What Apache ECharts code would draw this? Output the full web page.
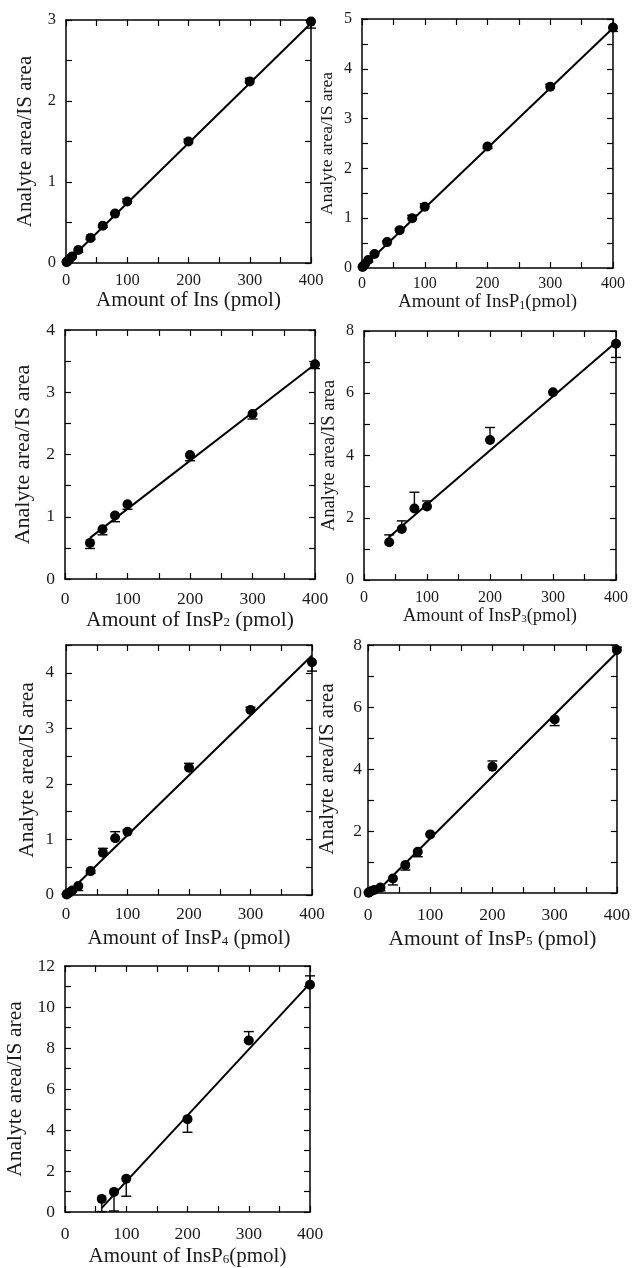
<!DOCTYPE html>
<html>
<head>
<meta charset="utf-8">
<script src="https://cdn.jsdelivr.net/npm/echarts@6/dist/echarts.min.js"></script>
<style>
html,body{margin:0;padding:0;background:#fff;}
#c{width:633px;height:1268px;}
</style>
</head>
<body>
<div id="c"></div>
<script>
// ---- Data ----
// Panel 1: Ins
const insX   = [1, 2, 5, 10, 20, 40, 60, 80, 100, 200, 300, 400];
const insY   = [0.01, 0.02, 0.04, 0.08, 0.16, 0.31, 0.46, 0.61, 0.76, 1.50, 2.24, 2.98];
const insCap = [0.02, 0.03, 0.06, 0.10, 0.13, 0.29, 0.44, 0.62, 0.79, 1.53, 2.28, 2.90];
const insFitX = [0, 400];
const insFitY = [0.0, 2.96];

// Panel 2: InsP1
const p1X   = [1, 2, 5, 10, 20, 40, 60, 80, 100, 200, 300, 400];
const p1Y   = [0.02, 0.04, 0.08, 0.16, 0.28, 0.52, 0.76, 1.00, 1.23, 2.44, 3.64, 4.83];
const p1Cap = [0.03, 0.06, 0.10, 0.12, 0.30, 0.54, 0.79, 1.06, 1.29, 2.40, 3.69, 4.75];
const p1FitX = [0, 400];
const p1FitY = [0.0, 4.82];

// Panel 3: InsP2
const p2X   = [40, 60, 80, 100, 200, 300, 400];
const p2Y   = [0.58, 0.80, 1.02, 1.20, 1.99, 2.65, 3.45];
const p2Cap = [0.49, 0.71, 0.92, 1.12, 1.90, 2.57, 3.38];
const p2FitX = [40, 400];
const p2FitY = [0.66, 3.45];

// Panel 4: InsP3
const p3X   = [40, 60, 80, 100, 200, 300, 400];
const p3Y   = [1.21, 1.64, 2.30, 2.36, 4.50, 6.03, 7.59];
const p3Cap = [1.45, 1.90, 2.82, 2.54, 4.90, 6.05, 7.15];
const p3FitX = [40, 400];
const p3FitY = [1.38, 7.64];

// Panel 5: InsP4
const p4X   = [1, 2, 5, 10, 20, 40, 60, 80, 100, 200, 300, 400];
const p4Y   = [0.01, 0.02, 0.04, 0.08, 0.16, 0.43, 0.76, 1.02, 1.14, 2.29, 3.33, 4.19];
const p4Cap = [0.02, 0.03, 0.06, 0.06, 0.08, 0.39, 0.84, 1.14, 1.17, 2.37, 3.38, 4.03];
const p4FitX = [0, 400];
const p4FitY = [0.0, 4.31];

// Panel 6: InsP5
const p5X   = [1, 2, 5, 10, 20, 40, 60, 80, 100, 200, 300, 400];
const p5Y   = [0.01, 0.03, 0.06, 0.10, 0.18, 0.47, 0.90, 1.33, 1.89, 4.07, 5.60, 7.84];
const p5Cap = [0.03, 0.05, 0.08, 0.12, 0.07, 0.26, 0.74, 1.17, 1.89, 4.26, 5.40, 7.93];
const p5FitX = [12, 400];
const p5FitY = [0.0, 7.76];

// Panel 7: InsP6
const p6X   = [60, 80, 100, 200, 300, 400];
const p6Y   = [0.64, 0.98, 1.62, 4.53, 8.37, 11.09];
const p6Cap = [0.02, 0.05, 0.77, 3.89, 8.80, 11.52];
const p6FitX = [60, 400];
const p6FitY = [0.2, 11.15];

// Axis settings
const xMax = 400, xStep = 100;
const yMaxes  = [3, 5, 4, 8, 4.5, 8, 12];
const ySteps  = [1, 1, 1, 2, 1, 2, 2];
const subs    = ['', '1', '2', '3', '4', '5', '6'];
const yTitle  = 'Analyte area/IS area';

// ---- Layout ----
const grids = [
  {left: 66,  top: 20,  width: 245, height: 243},
  {left: 362, top: 19,  width: 251, height: 249},
  {left: 65,  top: 330, width: 250, height: 249},
  {left: 364, top: 331, width: 252, height: 249},
  {left: 66,  top: 645, width: 246, height: 250},
  {left: 368, top: 645, width: 250, height: 248},
  {left: 65,  top: 966, width: 245, height: 250}
];
// font sizes / gaps per panel
const tickFs  = [16.5, 16, 17.5, 16, 17, 17.5, 17.5];
const yNameFs = [21, 17.5, 22, 18.5, 21.5, 21, 21.5];
const xNameFs = [21, 19, 21.5, 18.5, 21, 21.5, 21];
const yGap    = [30, 26, 31, 25, 28, 30, 39];
const xGap    = [24, 24, 30, 23, 33, 35, 34];
const yLblMargin = [10, 10, 10, 10, 12, 6, 10];
const xLblMargin = [9, 8, 11, 10, 11, 13, 13];

const panels = [
  [insX, insY, insCap, insFitX, insFitY],
  [p1X, p1Y, p1Cap, p1FitX, p1FitY],
  [p2X, p2Y, p2Cap, p2FitX, p2FitY],
  [p3X, p3Y, p3Cap, p3FitX, p3FitY],
  [p4X, p4Y, p4Cap, p4FitX, p4FitY],
  [p5X, p5Y, p5Cap, p5FitX, p5FitY],
  [p6X, p6Y, p6Cap, p6FitX, p6FitY]
];

const FONT = '"Liberation Serif", "Times New Roman", serif';
const INK = '#000';
const TXT = '#1a1a1a';

const xAxes = [], yAxes = [], series = [];
panels.forEach((p, i) => {
  const [xs, ys, caps, fx, fy] = p;
  const ymax = yMaxes[i], ystep = ySteps[i];
  const tickCommon = {show: true, inside: true, length: 6, lineStyle: {color: INK, width: 1.2}};
  const minorCommon = {show: true, splitNumber: 2, length: 6, lineStyle: {color: INK, width: 1.2}};
  const lineCommon = {show: true, onZero: false, lineStyle: {color: INK, width: 1.5}};
  let xName;
  if (i === 0) xName = 'Amount of Ins (pmol)';
  else if (i === 1 || i === 3 || i === 6) xName = 'Amount of InsP{s|' + subs[i] + '}(pmol)';
  else xName = 'Amount of InsP{s|' + subs[i] + '} (pmol)';
  const xfs = xNameFs[i];
  xAxes.push({
    gridIndex: i, type: 'value', position: 'bottom', min: 0, max: xMax, interval: xStep,
    axisLine: lineCommon, axisTick: tickCommon, minorTick: minorCommon,
    splitLine: {show: false},
    axisLabel: {color: TXT, fontFamily: FONT, fontSize: tickFs[i], margin: xLblMargin[i]},
    name: xName, nameLocation: 'middle', nameGap: xGap[i],
    nameTextStyle: {color: TXT, fontFamily: FONT, fontSize: xfs,
      rich: {s: {fontFamily: FONT, color: TXT, fontSize: Math.round(xfs * 0.62), padding: [6, 0, 0, 0]}}}
  });
  xAxes.push({
    gridIndex: i, type: 'value', position: 'top', min: 0, max: xMax, interval: xStep,
    axisLine: lineCommon, axisTick: tickCommon, minorTick: minorCommon,
    splitLine: {show: false}, axisLabel: {show: false}
  });
  yAxes.push({
    gridIndex: i, type: 'value', position: 'left', min: 0, max: ymax, interval: ystep,
    axisLine: lineCommon, axisTick: tickCommon, minorTick: minorCommon,
    splitLine: {show: false},
    axisLabel: {color: TXT, fontFamily: FONT, fontSize: tickFs[i], margin: yLblMargin[i],
      formatter: v => (Math.abs(v / ystep - Math.round(v / ystep)) < 1e-6 ? String(v) : '')},
    name: yTitle, nameLocation: 'middle', nameGap: yGap[i],
    nameTextStyle: {color: TXT, fontFamily: FONT, fontSize: yNameFs[i]}
  });
  yAxes.push({
    gridIndex: i, type: 'value', position: 'right', min: 0, max: ymax, interval: ystep,
    axisLine: lineCommon, axisTick: tickCommon, minorTick: minorCommon,
    splitLine: {show: false}, axisLabel: {show: false}
  });
  const xi = 2 * i, yi = 2 * i;
  series.push({
    type: 'line', xAxisIndex: xi, yAxisIndex: yi, silent: true,
    data: fx.map((v, k) => [v, fy[k]]),
    symbol: 'none', lineStyle: {color: INK, width: 2}, z: 2
  });
  series.push({
    type: 'custom', xAxisIndex: xi, yAxisIndex: yi, silent: true, z: 3,
    data: xs.map((v, k) => [v, ys[k], caps[k]]),
    renderItem: (params, api) => {
      const p0 = api.coord([api.value(0), api.value(1)]);
      const p1 = api.coord([api.value(0), api.value(2)]);
      const hw = 5;
      const st = {stroke: INK, lineWidth: 1.4};
      return {type: 'group', children: [
        {type: 'line', shape: {x1: p0[0], y1: p0[1], x2: p1[0], y2: p1[1]}, style: st},
        {type: 'line', shape: {x1: p1[0] - hw, y1: p1[1], x2: p1[0] + hw, y2: p1[1]}, style: st}
      ]};
    },
    encode: {x: 0, y: [1, 2]}
  });
  series.push({
    type: 'scatter', xAxisIndex: xi, yAxisIndex: yi, silent: true, z: 4,
    data: xs.map((v, k) => [v, ys[k]]),
    symbol: 'circle', symbolSize: 10, itemStyle: {color: INK, opacity: 1}
  });
});

const chart = echarts.init(document.getElementById('c'), null, {renderer: 'canvas'});
chart.setOption({
  animation: false,
  backgroundColor: '#fff',
  grid: grids.map(g => Object.assign({containLabel: false}, g)),
  xAxis: xAxes,
  yAxis: yAxes,
  series: series
});
</script>
</body>
</html>
